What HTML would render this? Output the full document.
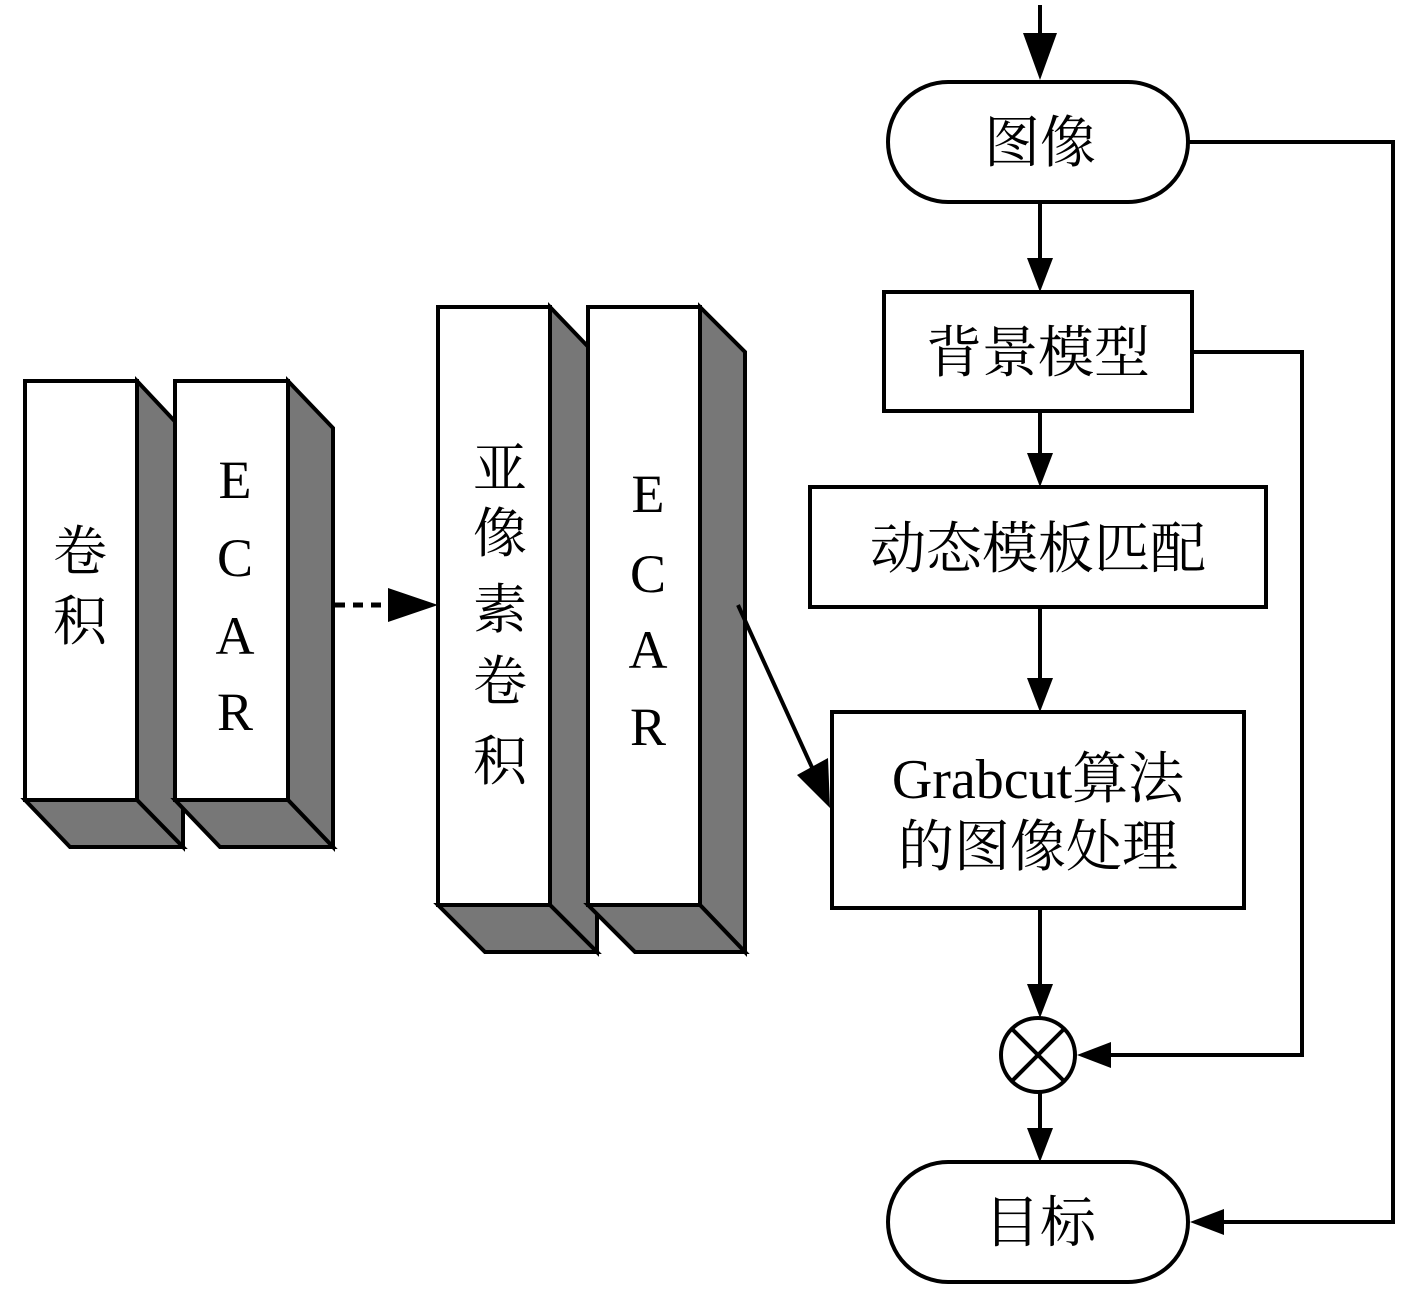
<!DOCTYPE html>
<html><head><meta charset="utf-8"><style>
html,body{margin:0;padding:0;background:#fff;}
svg{display:block;}
text{font-family:"Liberation Serif","Noto Serif CJK SC",serif;fill:#000;}
</style></head><body>
<svg width="1417" height="1290" viewBox="0 0 1417 1290" xmlns="http://www.w3.org/2000/svg">
<g stroke="#000" stroke-width="4" stroke-linejoin="miter">
<polygon points="137,381 183,430 183,847 137,800" fill="#777"/>
<polygon points="25,800 137,800 183,847 70,847" fill="#777"/>
<rect x="25" y="381" width="112" height="419" fill="#fff"/>
<polygon points="288,381 333,428 333,847 288,800" fill="#777"/>
<polygon points="175,800 288,800 333,847 220,847" fill="#777"/>
<rect x="175" y="381" width="113" height="419" fill="#fff"/>
<polygon points="550,307 597,356 597,952 550,905" fill="#777"/>
<polygon points="438,905 550,905 597,952 485,952" fill="#777"/>
<rect x="438" y="307" width="112" height="598" fill="#fff"/>
<polygon points="700,307 745,352 745,952 700,905" fill="#777"/>
<polygon points="588,905 700,905 745,952 635,952" fill="#777"/>
<rect x="588" y="307" width="112" height="598" fill="#fff"/>
</g>
<line x1="335" y1="605" x2="392" y2="605" stroke="#000" stroke-width="5" stroke-dasharray="10,8"/>
<polygon points="388,588 438,605 388,622" fill="#000"/>
<line x1="738" y1="605" x2="820" y2="785" stroke="#000" stroke-width="4"/>
<polygon points="797,775 830,808 828,758" fill="#000"/>

<g font-size="54" text-anchor="middle">
<text x="80" y="570">卷</text><text x="80" y="640">积</text>
<text x="235" y="498">E</text><text x="235" y="576">C</text><text x="235" y="654">A</text><text x="235" y="730">R</text>
<text x="500" y="487">亚</text><text x="500" y="552">像</text><text x="500" y="628">素</text><text x="500" y="700">卷</text><text x="500" y="780">积</text>
<text x="648" y="512">E</text><text x="648" y="592">C</text><text x="648" y="668">A</text><text x="648" y="745">R</text>
</g>

<g stroke="#000" stroke-width="4" fill="#fff">
<rect x="888" y="82" width="300" height="120" rx="60"/>
<rect x="884" y="292" width="308" height="119"/>
<rect x="810" y="487" width="456" height="120"/>
<rect x="832" y="712" width="412" height="196"/>
<circle cx="1038" cy="1055" r="37"/>
<rect x="888" y="1162" width="300" height="120" rx="60"/>
</g>
<g stroke="#000" stroke-width="4" fill="none">
<line x1="1012" y1="1029" x2="1064" y2="1081"/>
<line x1="1064" y1="1029" x2="1012" y2="1081"/>
<line x1="1040" y1="5" x2="1040" y2="50"/>
<line x1="1040" y1="202" x2="1040" y2="265"/>
<line x1="1040" y1="411" x2="1040" y2="460"/>
<line x1="1040" y1="607" x2="1040" y2="685"/>
<line x1="1040" y1="908" x2="1040" y2="990"/>
<line x1="1040" y1="1092" x2="1040" y2="1130"/>
<polyline points="1188,142 1393,142 1393,1222 1220,1222"/>
<polyline points="1192,352 1302,352 1302,1055 1105,1055"/>
</g>
<g fill="#000">
<polygon points="1023,33 1057,33 1040,80"/>
<polygon points="1027,258 1053,258 1040,292"/>
<polygon points="1027,453 1053,453 1040,487"/>
<polygon points="1027,678 1053,678 1040,712"/>
<polygon points="1027,984 1053,984 1040,1018"/>
<polygon points="1027,1128 1053,1128 1040,1162"/>
<polygon points="1224,1209 1224,1235 1190,1222"/>
<polygon points="1111,1042 1111,1068 1077,1055"/>
</g>
<g font-size="56" text-anchor="middle">
<text x="1040" y="162">图像</text>
<text x="1038" y="372">背景模型</text>
<text x="1038" y="568">动态模板匹配</text>
<text x="1038" y="798">Grabcut算法</text>
<text x="1038" y="866">的图像处理</text>
<text x="1040" y="1242">目标</text>
</g>
</svg>
</body></html>
